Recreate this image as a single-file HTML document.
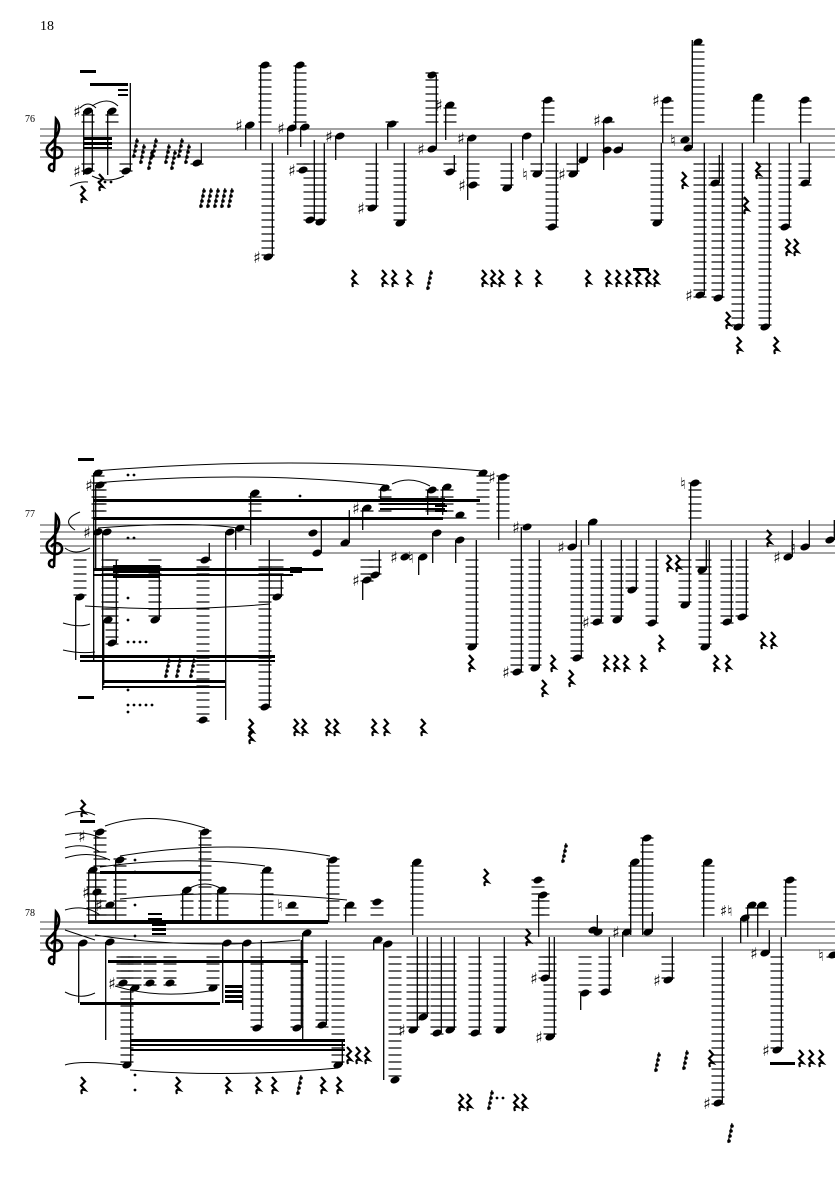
<!DOCTYPE html>
<html><head><meta charset="utf-8"><style>
html,body{margin:0;padding:0;background:#fff;}
svg{display:block}
</style></head><body>
<svg id="s" width="835" height="1181" viewBox="0 0 835 1181" xmlns="http://www.w3.org/2000/svg">
<text x="40" y="30" font-family="Liberation Serif, serif" font-size="14">18</text>
<text x="25" y="122" font-family="Liberation Serif, serif" font-size="10">76</text>
<text x="25" y="517" font-family="Liberation Serif, serif" font-size="10">77</text>
<text x="25" y="916" font-family="Liberation Serif, serif" font-size="10">78</text>
<g id="g"></g>
</svg>
<script>
var g=document.getElementById('g'),h='';
function L(x1,y1,x2,y2,w,c){h+='<line x1="'+x1+'" y1="'+y1+'" x2="'+x2+'" y2="'+y2+'" stroke="'+(c||'#000')+'" stroke-width="'+(w||1)+'"/>';}
function R(x,y,w,hh){h+='<rect x="'+x+'" y="'+y+'" width="'+w+'" height="'+hh+'"/>';}
function P(d,w){h+='<path d="'+d+'" fill="none" stroke="#000" stroke-width="'+(w||1)+'"/>';}
function T(x,y,t,s){h+='<text x="'+x+'" y="'+y+'" font-family="DejaVu Sans, sans-serif" font-weight="bold" font-size="'+(s||12)+'">'+t+'</text>';}
function staff(t){for(var i=0;i<5;i++)L(40,t+i*7,835,t+i*7,1,'#444');clef(52,t);}
function clef(x,t){P('M'+(x+2)+' '+(t+42)+' C'+(x-5)+' '+(t+43)+' '+(x-4)+' '+(t+34)+' '+(x+1)+' '+(t+35)+' M'+(x+2)+' '+(t+42)+' L'+(x+4)+' '+(t-10)+' C'+(x+10)+' '+(t-3)+' '+(x+7)+' '+(t+8)+' '+(x-4)+' '+(t+17)+' C'+(x-9)+' '+(t+25)+' '+(x+2)+' '+(t+33)+' '+(x+9)+' '+(t+27)+' C'+(x+13)+' '+(t+20)+' '+(x+4)+' '+(t+14)+' '+(x-1)+' '+(t+22),2.6);}
function head(x,y,T){h+='<ellipse cx="'+x+'" cy="'+y+'" rx="4.8" ry="3.3" transform="rotate(-22 '+x+' '+y+')"/>';
 var ly;if(y<T-3){for(ly=T-7;ly>=y-2;ly-=7)L(x-6.5,ly,x+6.5,ly,1.2);}
 if(y>T+31){for(ly=T+35;ly<=y+2;ly+=7)L(x-6.5,ly,x+6.5,ly,1.2);}}
function acc(x,y,a){T(x-15,y+6,a=='#'?'♯':'♮',16);}
function notes(T,arr){arr.forEach(function(n){var x=n[0],y=n[1],e=n[2],a=n[3];head(x,y,T);
 if(e!=null){var sx=e<y?x+4.3:x-4.3;L(sx,y,sx,e,1.3);} if(a)acc(x,y,a);});}
function rest(x,y){P('M'+(x-1)+' '+(y-8)+' l4 4.5 l-4 4 l4 4.5 q-5 -1.5 -3 4',2.2);}
function rests(y,xs){xs.forEach(function(x){rest(x,y);});}
function r16(x,y){L(x+4,y-10,x,y+10,1.1);for(var i=0;i<4;i++){h+='<circle cx="'+(x+1+(3-i))+'" cy="'+(y-7+i*5)+'" r="1.8"/>';}}
function dots(x,y,n){for(var i=0;i<n;i++)h+='<circle cx="'+(x+i*6)+'" cy="'+y+'" r="1.4"/>';}

/* SYSTEM 1 */
staff(129);
notes(129,[[88,111,175,'#'],[112,111,175],[88,171,110,'#'],[126,171,83],[197,163,143],
[265,65,150],[250,125,150,'#'],[268,257,143,'#'],[292,128,155,'#'],[300,65,128],[305,127,147],[310,220,140],[320,222,143],[303,170,null,'#'],
[340,136,160,'#'],[372,208,143,'#'],[392,124,150],[400,223,143],[432,149,75,'#'],[432,75,null],[450,105,140,'#'],[450,172,155],
[472,138,200,'#'],[473,185,null,'#'],[507,188,143],[527,136,160],[548,100,143],[537,174,143,'n'],[552,227,143],[573,174,143,'#'],[583,160,143],
[608,120,170,'#'],[607,150,null],[618,150,143],[657,223,143],[667,100,143,'#'],[685,140,null,'n'],[688,148,40],[698,42,null],
[700,295,143,'#'],[718,298,143],[715,183,155],[738,327,143],[765,327,143],[758,97,143],[785,227,143],[805,100,143],[805,183,143]]);
R(80,70,16,3);R(90,83,38,3);R(118,89,10,2);R(118,94,10,2);R(84,137,28,3);R(84,142,28,3);R(84,147,28,2);
P('M80 108 Q88 100 96 108');P('M92 106 Q108 96 118 106');P('M92 176 Q108 184 124 176');P('M70 186 Q80 181 88 182');
dots(99,182,3);rest(100,182);rest(82,194);
[133,140,148,152,165,171,178,185].forEach(function(x,i){r16(x,148+(i%3)*6);});
[200,207,214,221,228].forEach(function(x){r16(x,198);});
rests(278,[353,383,393,408,483,492,500,517,537,587,607,617,627,637,647,655]);r16(427,280);R(633,268,16,3);
rests(345,[738,775]);rest(745,205);rest(787,247);rest(795,247);rest(727,320);rest(757,170);rest(683,180);
/* SYSTEM 2 */
staff(525);
notes(525,[[98,473,570],[100,485,570,'#'],[98,532,660,'#'],[107,532,690],[80,597,660],[108,620,685],[112,643,560],[155,620,570],[277,597,575],
[205,560,543],[230,532,720],[240,528,550],[203,720,null],[255,493,545],[265,707,540],
[317,553,520],[313,533,null],[345,543,510],[367,508,530,'#'],[385,488,500],[432,490,515],[447,487,515],[367,580,600,'#'],[375,575,550],
[405,557,null,'#'],[423,557,575,'n'],[437,533,563],[460,515,null],[460,540,563],[472,647,540],[483,473,null],[503,477,540,'#'],
[527,527,null,'#'],[517,672,527,'#'],[535,668,540],[572,547,520,'#'],[577,658,540],[593,522,545],[597,622,540,'#'],[617,620,540],
[632,590,540],[652,623,540],[695,483,540,'n'],[685,605,540],[702,570,540],[705,647,540],[727,622,540],[742,617,540],[788,557,530,'#'],[805,547,520,'n'],[830,540,520]]);
R(78,458,16,3);R(93,499,387,3);R(93,517,350,3);R(93,568,230,3);R(93,574,200,2);R(113,565,47,3);R(113,570,47,3);R(113,575,47,3);R(80,655,195,3);R(80,660,195,2);R(103,680,122,3);R(103,686,122,2);R(290,567,12,6);R(435,505,12,2);R(435,510,12,2);R(380,498,65,2);R(380,503,65,2);R(380,508,65,2);
R(78,696,16,3);
P('M95 471 Q290 455 483 471');P('M95 483 Q250 470 385 485');P('M98 528 Q200 520 250 530');P('M75 530 Q60 520 80 512');P('M65 548 Q75 556 90 548');
P('M85 606 Q180 612 270 604');P('M63 623 Q80 628 90 624');P('M63 650 Q80 654 95 652');P('M392 484 Q410 475 430 486');
dots(128,475,2);dots(128,538,2);dots(128,598,1);dots(128,620,1);dots(128,642,4);dots(128,690,1);dots(128,705,5);dots(128,712,1);dots(300,496,1);
[165,176,190].forEach(function(x){r16(x,668);});
rests(663,[470,552,605,615,625,642,715,727]);rest(570,678);rest(543,688);rest(660,643);rest(762,640);rest(772,640);rest(668,563);rest(677,563);rest(768,538);
rests(727,[295,303,327,335,373,385,422,250]);rest(250,735);
/* SYSTEM 3 */
staff(922);
notes(922,[[100,832,922],[205,832,922],[120,860,922],[93,870,922],[97,892,null,'#'],[110,905,null,'#'],[187,890,922],[222,890,922],[267,870,922],[333,860,922],[292,905,null,'n'],[350,905,922],
[83,943,1003],[110,942,1040],[227,943,1003],[247,943,1010],[307,933,1040],[123,983,null,'#'],[135,988,1065],[150,983,null],[170,983,null],[213,988,null],
[257,1028,940],[297,1028,940],[322,1025,940],[127,1065,null],[338,1065,1040],[377,902,null],[378,940,950],[388,944,1080],[395,1080,null],[417,862,935],
[413,1030,937,'#'],[423,1017,937],[437,1033,937],[450,1030,937],[475,1033,937],[500,1030,937],[538,880,null],[543,895,937],[545,978,937,'#'],[550,1037,937,'#'],
[593,930,915],[598,932,null],[585,993,1010],[605,992,937],[627,932,957,'#'],[635,862,935],[647,838,935],[648,932,912],[668,980,937,'#'],[708,862,937],
[745,918,943],[752,905,937],[762,905,937],[765,953,930,'#'],[718,1103,937,'#'],[777,1050,937,'#'],[790,880,937],[833,955,null,'n']]);
T(720,916,'♯♮',15);
R(80,820,15,3);T(78,842,'♯',16);rest(82,808);R(100,871,100,3);R(88,920,240,4);R(108,960,200,3);R(80,1002,140,3);R(225,985,17,3);R(225,990,17,3);R(225,995,17,3);R(225,1000,17,3);R(130,1039,215,3);R(130,1044,215,2);R(130,1049,215,2);
R(152,923,14,3);R(152,928,14,3);R(152,933,14,2);R(148,913,14,2);R(148,918,14,2);R(770,1062,25,3);
P('M65 930 Q80 935 95 940');P('M65 910 Q85 904 100 915');P('M65 858 Q90 850 110 860');P('M65 848 Q85 842 100 852');P('M65 835 Q85 830 100 838');P('M65 815 Q80 808 95 815');
P('M105 826 Q150 810 205 828');P('M120 856 Q230 838 330 856');P('M100 867 Q185 855 265 866');P('M120 899 Q230 888 347 900');P('M95 935 Q190 950 300 940');P('M115 986 Q160 1000 215 990');P('M65 992 Q80 1000 95 993');P('M130 1070 Q230 1078 338 1068');P('M65 1065 Q80 1060 125 1065');P('M190 888 Q205 880 220 888');
dots(135,860,1);dots(135,872,1);dots(135,905,1);dots(135,936,1);dots(135,1075,1);dots(135,1090,1);
rests(1085,[82,177,227,257,273,322,338]);r16(297,1085);rests(1055,[348,357,366]);
rest(485,877);r16(562,853);rest(527,937);r16(655,1062);r16(683,1060);rest(710,1058);r16(728,1133);rests(1058,[800,810,820]);
rests(1102,[460,468,515,523]);r16(488,1100);dots(497,1098,2);
g.innerHTML=h;
</script>
</body></html>
